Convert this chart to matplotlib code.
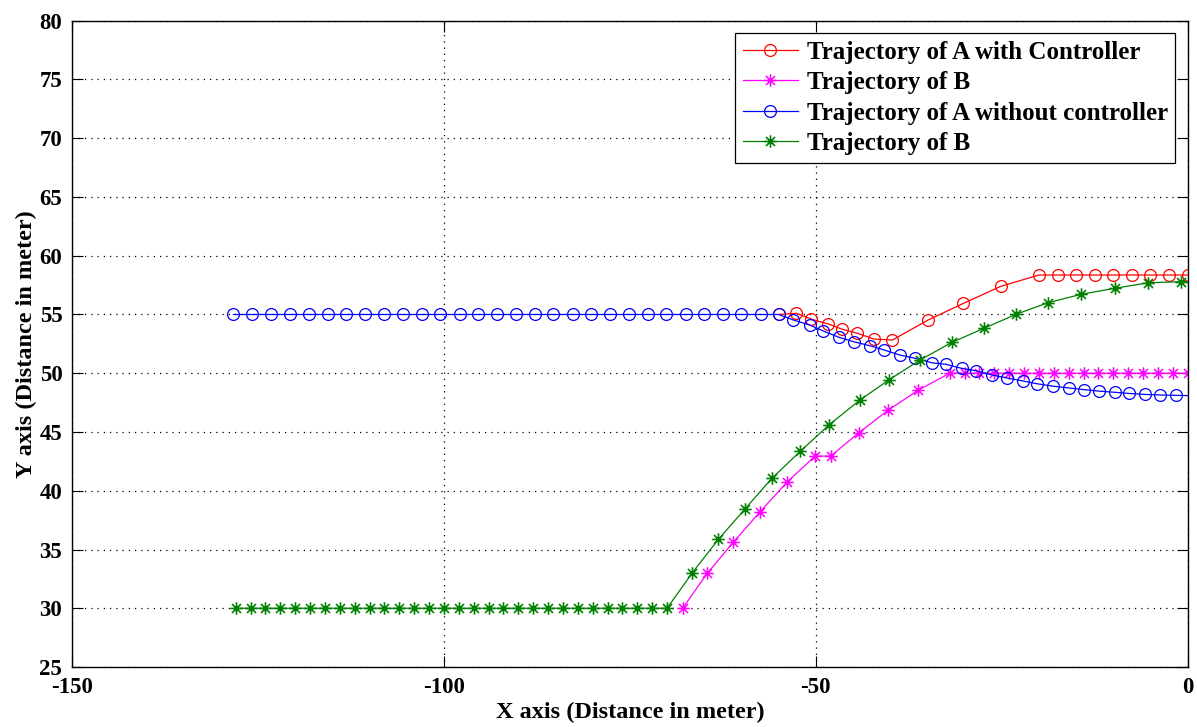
import numpy as np
import matplotlib
matplotlib.use("Agg")
import matplotlib.pyplot as plt
from matplotlib.path import Path

# ---------------- data ----------------
# Trajectory of A with controller (red)
red_x = [-55.0, -52.6, -50.6, -48.3, -46.5, -44.4, -42.2, -39.7, -34.9, -30.15, -25.1,
         -20.0, -17.5, -15.0, -12.5, -10.0, -7.5, -5.0, -2.5, 0.0]
red_y = [55.0, 55.1, 54.6, 54.19, 53.76, 53.4, 52.91, 52.83, 54.53, 55.95, 57.4,
         58.36, 58.36, 58.36, 58.36, 58.36, 58.36, 58.36, 58.36, 58.36]

# Trajectory of B (magenta)
mag_x = [-67.9, -64.6, -61.1, -57.5, -53.9, -50.1, -48.0, -44.2, -40.25, -36.2,
         -32.0, -30.0, -28.0, -26.0, -24.0, -22.0, -20.0, -18.0, -16.0, -14.0,
         -12.0, -10.0, -8.0, -6.0, -4.0, -2.0, 0.0]
mag_y = [30.0, 32.97, 35.61, 38.21, 40.71, 42.95, 42.95, 44.94, 46.87, 48.57,
         50.0, 50.0, 50.0, 50.0, 50.0, 50.0, 50.0, 50.0, 50.0, 50.0,
         50.0, 50.0, 50.0, 50.0, 50.0, 50.0, 50.0]

# Trajectory of A without controller (blue)
blue_x = [-128.3, -125.8, -123.2, -120.7, -118.2, -115.6, -113.1, -110.6, -108.0, -105.5,
          -103.0, -100.5, -97.9, -95.4, -92.9, -90.3, -87.8, -85.3, -82.7, -80.2,
          -77.7, -75.1, -72.6, -70.1, -67.5, -65.0, -62.5, -60.0, -57.4, -55.0,
          -53.0, -50.8, -49.0, -46.9, -44.9, -42.7, -40.8, -38.7, -36.6, -34.4,
          -32.5, -30.4, -28.4, -26.3, -24.3, -22.2, -20.2, -18.1, -16.0, -13.9,
          -11.97, -9.8, -7.85, -5.8, -3.7, -1.6, 0.0]
blue_y = [55.0] * 30 + [54.53, 54.1, 53.6, 53.06, 52.68, 52.34, 51.98, 51.55, 51.27, 50.89,
                        50.76, 50.42, 50.2, 49.85, 49.6, 49.35, 49.1, 48.9, 48.75, 48.6,
                        48.48, 48.38, 48.28, 48.2, 48.15, 48.12, 48.1]

# Trajectory of B (green)
green_x = [-128.0, -126.0, -124.0, -122.0, -120.0, -118.0, -116.0, -114.0, -112.0, -110.0,
           -108.0, -106.0, -104.0, -102.0, -100.0, -98.0, -96.0, -94.0, -92.0, -90.0,
           -88.0, -86.0, -84.0, -82.0, -80.0, -78.0, -76.0, -74.0, -72.0, -70.0,
           -66.6, -63.1, -59.5, -55.9, -52.1, -48.2, -44.1, -40.2, -36.0, -31.7,
           -27.4, -23.1, -18.8, -14.3, -9.8, -5.3, -0.85, 0.0]
green_y = [30.0] * 30 + [33.02, 35.86, 38.47, 41.06, 43.35, 45.62, 47.7, 49.42, 51.12, 52.63,
                         53.82, 55.01, 56.0, 56.72, 57.23, 57.7, 57.79, 57.79]

labels = ["Trajectory of A with Controller", "Trajectory of B",
          "Trajectory of A without controller", "Trajectory of B"]
x_ticks = [-150, -100, -50, 0]
y_ticks = [25, 30, 35, 40, 45, 50, 55, 60, 65, 70, 75, 80]

# ---------------- style ----------------
FONT = ["Liberation Serif", "DejaVu Serif"]
plt.rcParams["font.family"] = FONT
plt.rcParams["font.weight"] = "bold"

# MATLAB-style asterisk marker
v = [(0, -1), (0, 1), (-1, 0), (1, 0),
     (-0.72, -0.72), (0.72, 0.72), (-0.72, 0.72), (0.72, -0.72)]
c = [Path.MOVETO, Path.LINETO] * 4
asterisk = Path(v, c)

fig = plt.figure(figsize=(11.97, 7.27), dpi=100)
ax = fig.add_axes([0.0602, 0.0825, 0.932, 0.889])

lw = 0.9
ax.plot(red_x, red_y, color="#FF0000", lw=lw, marker="o", ms=8.5,
        mfc="none", mew=0.9, label=labels[0])
ax.plot(mag_x, mag_y, color="#FF00FF", lw=lw, marker=asterisk, ms=9,
        mfc="none", mew=1.1, label=labels[1])
ax.plot(blue_x, blue_y, color="#0000FF", lw=lw, marker="o", ms=8.5,
        mfc="none", mew=0.9, markevery=list(range(len(blue_x) - 1)), label=labels[2])
ax.plot(green_x, green_y, color="#008000", lw=lw, marker=asterisk, ms=9,
        mfc="none", mew=1.2, markevery=list(range(len(green_x) - 1)), label=labels[3])

ax.set_xlim(-150, 0)
ax.set_ylim(25, 80)
ax.set_xticks(x_ticks)
ax.set_yticks(y_ticks)
ax.set_xticklabels([str(t) for t in x_ticks], fontsize=16.5, fontweight="bold")
ax.set_yticklabels([str(t) for t in y_ticks], fontsize=16.5, fontweight="bold")
ax.tick_params(axis="both", direction="in", length=8, width=0.8, top=True, right=True)
ax.tick_params(axis="x", pad=7)
ax.tick_params(axis="y", pad=7)
ax.grid(True, color="black", linestyle=(0, (1, 4)), linewidth=0.9)
for s in ax.spines.values():
    s.set_linewidth(1.0)

ax.set_xlabel("X axis (Distance in meter)", fontsize=17.5, fontweight="bold", labelpad=3)
ax.set_ylabel("Y axis (Distance in meter)", fontsize=17.5, fontweight="bold", labelpad=2)

leg = ax.legend(loc="upper right", frameon=True, fancybox=False,
                edgecolor="black", framealpha=1, handlelength=2.2, handletextpad=0.35,
                borderpad=0.3, labelspacing=0.3, borderaxespad=0.5,
                prop={"family": FONT, "weight": "bold", "size": 18})
leg.get_frame().set_linewidth(0.9)

fig.savefig("out.png", dpi=100)
